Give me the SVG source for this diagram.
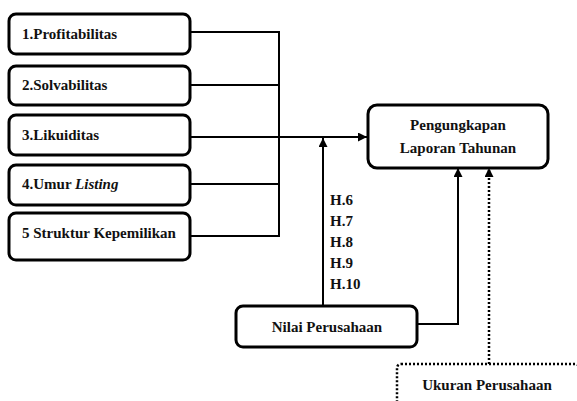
<svg xmlns="http://www.w3.org/2000/svg" width="577" height="401" viewBox="0 0 577 401">
<defs>
<marker id="ah" viewBox="0 0 10 10" refX="10" refY="5" markerWidth="9" markerHeight="9" markerUnits="userSpaceOnUse" orient="auto">
<path d="M0,0 L10,5 L0,10 z" fill="#000"/>
</marker>
</defs>
<style>
.box{fill:#fff;stroke:#000;stroke-width:3}
.dbox{fill:#fff;stroke:#000;stroke-width:2.5;stroke-dasharray:2 2}
text{font-family:'Liberation Serif','Times New Roman',Tinos,serif;font-weight:bold;font-size:15px;fill:#111}
.c{text-anchor:middle}
.ln{fill:none;stroke:#000;stroke-width:2}
.dl{fill:none;stroke:#000;stroke-width:2.5;stroke-dasharray:2 2}
</style>
<rect width="577" height="401" fill="#fff"/>
<g id="connectors">
<polyline class="ln" points="190,32 279,32 279,236 190,236"/>
<line class="ln" x1="190" y1="85" x2="279" y2="85"/>
<line class="ln" x1="190" y1="184" x2="279" y2="184"/>
<line class="ln" x1="190" y1="137" x2="367" y2="137" marker-end="url(#ah)"/>
<line class="ln" x1="323" y1="306" x2="323" y2="138" marker-end="url(#ah)"/>
<polyline class="ln" points="417,324 458,324 458,168" marker-end="url(#ah)"/>
<line class="dl" x1="489" y1="364" x2="489" y2="168" marker-end="url(#ah)"/>
</g>
<g id="n1"><rect class="box" x="9" y="14" width="181" height="40" rx="7"/><text x="22" y="39">1.Profitabilitas</text></g>
<g id="n2"><rect class="box" x="9" y="66" width="181" height="39" rx="7"/><text x="22" y="90">2.Solvabilitas</text></g>
<g id="n3"><rect class="box" x="9" y="115" width="181" height="40" rx="7"/><text x="22" y="140">3.Likuiditas</text></g>
<g id="n4"><rect class="box" x="9" y="165" width="181" height="40" rx="7"/><text x="22" y="189">4.Umur <tspan font-style="italic">Listing</tspan></text></g>
<g id="n5"><rect class="box" x="9" y="213" width="181" height="47" rx="7"/><text x="22" y="238">5 Struktur Kepemilikan</text></g>
<g id="target"><rect class="box" x="368" y="105" width="180" height="63" rx="9"/><text class="c" x="458" y="130">Pengungkapan</text><text class="c" x="458" y="153">Laporan Tahunan</text></g>
<g id="hyp"><text x="330" y="205">H.6</text><text x="330" y="226">H.7</text><text x="330" y="247">H.8</text><text x="330" y="268">H.9</text><text x="330" y="289">H.10</text></g>
<g id="nilai"><rect class="box" x="236" y="306" width="181" height="41" rx="7"/><text class="c" x="327" y="332">Nilai Perusahaan</text></g>
<g id="ukuran"><rect class="dbox" x="397" y="364" width="182" height="50" rx="4"/><text class="c" x="487" y="390">Ukuran Perusahaan</text></g>
</svg>
